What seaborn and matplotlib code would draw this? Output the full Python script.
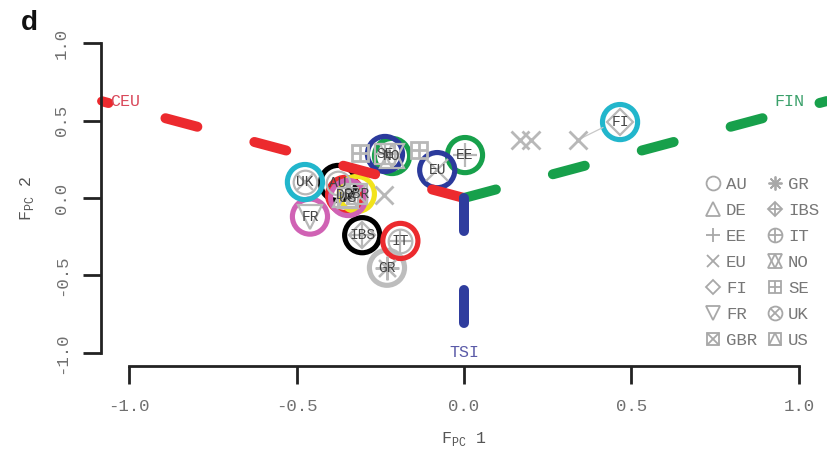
import matplotlib
matplotlib.use("Agg")
import numpy as np
import pandas as pd
import seaborn as sns
import matplotlib.pyplot as plt
from matplotlib.lines import Line2D
from matplotlib.legend_handler import HandlerTuple

# ---------------- data ----------------
pops = ['AU', 'DE', 'EE', 'EU', 'FI', 'FR', 'GBR', 'GR', 'IBS', 'IT', 'NO', 'SE', 'UK', 'US']
pc1 = [-0.376, -0.355, 0.003, -0.080, 0.466, -0.460, -0.320, -0.230, -0.304, -0.190, -0.215, -0.236, -0.475, -0.346]
pc2 = [0.097, 0.020, 0.277, 0.180, 0.490, -0.120, 0.026, -0.450, -0.240, -0.277, 0.271, 0.284, 0.103, 0.000]

anchor_names = ['CEU', 'FIN', 'TSI']
anchor_x = [-1.0825, 1.0825, 0.0]
anchor_y = [0.625, 0.625, -1.25]

# extra grey sample markers (unlabelled)
extra_x = [0.167, 0.200, 0.340, -0.240, -0.310, -0.135]
extra_y = [0.375, 0.375, 0.375, 0.020, 0.290, 0.310]
extra_pop = ['EU', 'EU', 'EU', 'EU', 'SE', 'SE']

tick_vals = [-1.0, -0.5, 0.0, 0.5, 1.0]
tick_labels = ['-1.0', '-0.5', '0.0', '0.5', '1.0']

# ---------------- style ----------------
r_pal = ['#000000', '#ec2a2e', '#17a04b', '#2b3a9c', '#22b6cc', '#d062b4', '#f2e31c', '#bdbdbd']
ring_pal = {p: r_pal[i % 8] for i, p in enumerate(pops)}
anchor_pal = {'CEU': '#ec2a2e', 'FIN': '#17a04b', 'TSI': '#2f3d9e'}
anchor_text_col = {'CEU': '#d9485a', 'FIN': '#3aa06a', 'TSI': '#5a5aa8'}
GREY = '#b8b8b8'

pch_parts = {
    'AU': [('o', 1.0)], 'DE': [('^', 1.0)], 'EE': [('+', 1.0)], 'EU': [('x', 0.9)],
    'FI': [('D', 0.75)], 'FR': [('v', 1.0)], 'GBR': [('s', 0.85), ('x', 0.85)],
    'GR': [((8, 2, 0), 1.0)], 'IBS': [('D', 0.75), ('+', 1.05)], 'IT': [('o', 1.0), ('+', 1.0)],
    'NO': [('^', 1.0), ('v', 1.0)], 'SE': [('s', 0.85), ('+', 0.85)],
    'UK': [('o', 1.0), ('x', 0.7)], 'US': [('s', 0.85), ('^', 0.85)],
}

sns.set_theme(style='white')
plt.rcParams['font.family'] = ['Liberation Mono', 'DejaVu Sans']
plt.rcParams['mathtext.fontset'] = 'custom'
plt.rcParams['mathtext.rm'] = 'Liberation Mono'
plt.rcParams['axes.unicode_minus'] = False

fig = plt.figure(figsize=(8.28, 4.5), dpi=100)
ax = fig.add_axes([101 / 828, 1 - 366 / 450, 726 / 828, 336 / 450])

# ---------------- dashed lines from origin to anchors ----------------
for name, x, y in zip(anchor_names, anchor_x, anchor_y):
    sns.lineplot(x=[0.0, x], y=[0.0, y], sort=False, estimator=None, errorbar=None,
                 color=anchor_pal[name], linewidth=7.2, linestyle=(0, (3.3, 5.9)),
                 dash_capstyle='round', ax=ax, legend=False)

sns.scatterplot(x=anchor_x[:2], y=anchor_y[:2], hue=anchor_names[:2],
                palette=anchor_pal, s=40, linewidth=0, legend=False, ax=ax, clip_on=False)

# thin grey link near FI
ax.plot([0.34, 0.415], [0.375, 0.455], color='#c8c8c8', lw=0.9)

# ---------------- grey pch markers ----------------
def draw_pch(x, y, pop, size, mew):
    for m, sc in pch_parts[pop]:
        ax.plot([x], [y], linestyle='none', marker=m, markersize=size * sc,
                mfc='none', mec=GREY, mew=mew)

for x, y, p in zip(extra_x, extra_y, extra_pop):
    draw_pch(x, y, p, 14, 2.0)

for x, y, p in zip(pc1, pc2, pops):
    draw_pch(x, y, p, 17, 1.6)

# ---------------- coloured rings ----------------
df = pd.DataFrame({'pc1': pc1, 'pc2': pc2, 'pop': pops})
sns.scatterplot(data=df, x='pc1', y='pc2', hue='pop', palette=ring_pal, s=640,
                linewidth=0, legend=False, ax=ax)
rings = ax.collections[-1]
rings.set_edgecolors(rings.get_facecolors())
rings.set_facecolors('none')
rings.set_linewidths(3.7)

for x, y, p in zip(pc1, pc2, pops):
    ax.text(x, y, p, ha='center', va='center', fontsize=10.5, color='#444444')

# anchor labels
ax.annotate('CEU', (anchor_x[0], anchor_y[0]), xytext=(6, 0), textcoords='offset points',
            ha='left', va='center', fontsize=12, color=anchor_text_col['CEU'])
ax.annotate('FIN', (anchor_x[1], anchor_y[1]), xytext=(-16, 0), textcoords='offset points',
            ha='right', va='center', fontsize=12, color=anchor_text_col['FIN'])
ax.text(0.0, -1.0, 'TSI', ha='center', va='center', fontsize=12, color=anchor_text_col['TSI'])

# ---------------- axes ----------------
ax.set_xlim(-1.084, 1.084)
ax.set_ylim(-1.084, 1.084)
for s in ['top', 'right']:
    ax.spines[s].set_visible(False)
for s in ['left', 'bottom']:
    ax.spines[s].set_bounds(-1, 1)
    ax.spines[s].set_linewidth(2.0)
    ax.spines[s].set_color('#222222')
ax.set_xticks(tick_vals)
ax.set_xticklabels(tick_labels)
ax.set_yticks(tick_vals)
ax.set_yticklabels(tick_labels, rotation=90, va='center')
ax.tick_params(axis='both', which='major', bottom=True, left=True, direction='out',
               length=13, width=2.0, color='#222222', labelsize=12.5, labelcolor='#707070')
ax.tick_params(axis='x', pad=11)
ax.tick_params(axis='y', pad=10)

ax.set_xlabel(r'F$_{\mathrm{PC}}$ 1', fontsize=12, color='#555555')
ax.set_ylabel(r'F$_{\mathrm{PC}}$ 2', fontsize=12, color='#555555')
ax.xaxis.set_label_coords(0.5, -0.19)
ax.yaxis.set_label_coords(-0.09, 0.5)

# ---------------- legend ----------------
handles = []
for p in pops:
    handles.append(tuple(Line2D([], [], linestyle='none', marker=m, markersize=10 * sc,
                                mfc='none', mec='#a8a8a8', mew=1.3)
                         for m, sc in pch_parts[p]))
leg = ax.legend(handles, pops, ncol=2, frameon=False, loc='upper left',
                bbox_to_anchor=(706 / 828, 1 - 177 / 450), bbox_transform=fig.transFigure,
                borderpad=0, borderaxespad=0, handlelength=0.8, handletextpad=0.35,
                columnspacing=0.62, labelspacing=0.62, fontsize=12.5,
                handler_map={tuple: HandlerTuple(ndivide=1)})
for t in leg.get_texts():
    t.set_color('#777777')

fig.text(29 / 828, 1 - 23 / 450, 'd', fontsize=20, fontweight='bold',
         family='Liberation Sans', ha='center', va='center', color='#111111')

fig.savefig('out.png', dpi=100)
